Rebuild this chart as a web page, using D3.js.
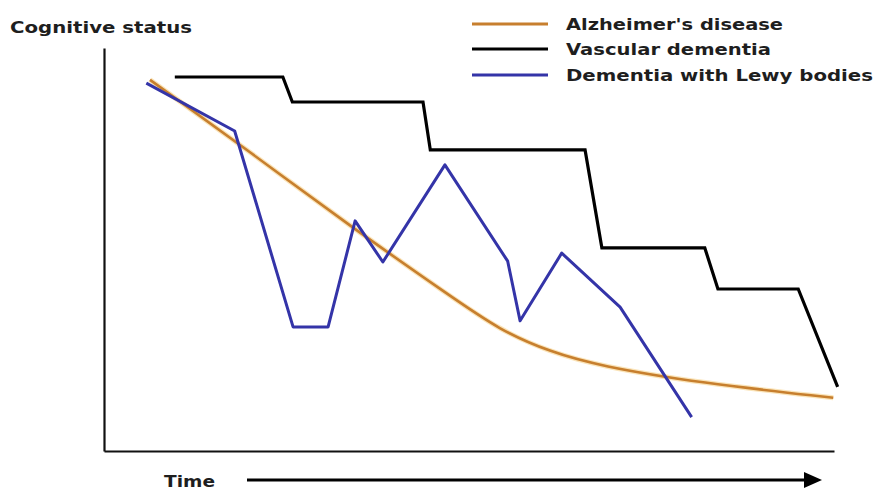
<!DOCTYPE html>
<html>
<head>
<meta charset="utf-8">
<script src="https://cdn.jsdelivr.net/npm/d3@7"></script>
<style>
  html, body { margin: 0; padding: 0; background: #fff; }
  svg { display: block; }
  text { font-family: "DejaVu Sans", Verdana, sans-serif; font-weight: bold; fill: #1e1e1e; }
</style>
</head>
<body>
<svg id="chart" width="877" height="491"></svg>
<script>
// ---- Data (time 0..100, cognitive status 0..100) ----
const seriesNames = ["Alzheimer's disease", "Vascular dementia", "Dementia with Lewy bodies"];
const seriesColors = ["#c77f2e", "#000000", "#3434a8"];

const alzheimers = [
  [6.3, 92.1], [20.0, 74.2], [33.7, 55.8], [47.4, 38.5], [54.2, 30.0],
  [61.1, 24.6], [67.9, 21.1], [81.6, 16.9], [99.9, 13.2]
];
const vascular = [
  [9.7, 92.8], [24.5, 92.8], [25.8, 86.6], [43.7, 86.6], [44.7, 74.7],
  [65.9, 74.7], [68.2, 50.4], [82.3, 50.4], [84.1, 40.2], [95.1, 40.2],
  [100.5, 15.9]
];
const lewy = [
  [5.8, 91.3], [17.9, 79.4], [25.9, 30.8], [30.7, 30.8], [34.4, 57.1],
  [38.2, 46.9], [46.7, 71.0], [55.3, 47.1], [57.0, 32.3], [62.7, 49.1],
  [70.7, 35.7], [80.5, 8.4]
];
const yAxisLabel = "Cognitive status";
const xAxisLabel = "Time";

// ---- Layout ----
const svg = d3.select("#chart");
const x = d3.scaleLinear().domain([0, 100]).range([104, 834]);
const y = d3.scaleLinear().domain([0, 100]).range([451, 48]);

// Axes (plain lines, no ticks)
svg.append("g")
  .attr("transform", `translate(${x(0)},0)`)
  .call(d3.axisLeft(y).tickValues([]).tickSizeOuter(0))
  .call(g => g.select(".domain").attr("stroke", "#111").attr("stroke-width", 2.2));
svg.append("g")
  .attr("transform", `translate(0,${y(0)})`)
  .call(d3.axisBottom(x).tickValues([]).tickSizeOuter(0))
  .call(g => g.select(".domain").attr("stroke", "#111").attr("stroke-width", 2.2));

// Y label
svg.append("text")
  .attr("x", 10).attr("y", 33)
  .attr("font-size", 15.5)
  .attr("textLength", 182).attr("lengthAdjust", "spacingAndGlyphs")
  .text(yAxisLabel);

// X label + arrow
svg.append("text")
  .attr("x", 164).attr("y", 487)
  .attr("font-size", 15.5)
  .attr("textLength", 51).attr("lengthAdjust", "spacingAndGlyphs")
  .text(xAxisLabel);
svg.append("line")
  .attr("x1", 247).attr("x2", 806).attr("y1", 480).attr("y2", 480)
  .attr("stroke", "#000").attr("stroke-width", 3);
svg.append("path")
  .attr("d", "M804,472 L822,480 L804,488 Z")
  .attr("fill", "#000");

// Lines
const smooth = d3.line().x(d => x(d[0])).y(d => y(d[1])).curve(d3.curveBasis);
const straight = d3.line().x(d => x(d[0])).y(d => y(d[1]));

// Alzheimer's with soft glow
svg.append("path").attr("d", smooth(alzheimers))
  .attr("fill", "none").attr("stroke", "#f6d28a").attr("stroke-width", 5).attr("stroke-opacity", 0.6);
svg.append("path").attr("d", smooth(alzheimers))
  .attr("fill", "none").attr("stroke", seriesColors[0]).attr("stroke-width", 2.6);

svg.append("path").attr("d", straight(vascular))
  .attr("fill", "none").attr("stroke", seriesColors[1]).attr("stroke-width", 3.2)
  .attr("stroke-linejoin", "miter");

svg.append("path").attr("d", straight(lewy))
  .attr("fill", "none").attr("stroke", seriesColors[2]).attr("stroke-width", 3)
  .attr("stroke-linejoin", "round");

// Legend
const legendY = [24, 49, 75];
const legendLens = [217, 205, 307];
const legend = svg.append("g");
seriesNames.forEach((name, i) => {
  legend.append("line")
    .attr("x1", 472).attr("x2", 548)
    .attr("y1", legendY[i]).attr("y2", legendY[i])
    .attr("stroke", seriesColors[i]).attr("stroke-width", 3);
  legend.append("text")
    .attr("x", 566).attr("y", legendY[i] + 5.5)
    .attr("font-size", 15)
    .attr("textLength", legendLens[i]).attr("lengthAdjust", "spacingAndGlyphs")
    .text(name);
});
</script>
</body>
</html>
